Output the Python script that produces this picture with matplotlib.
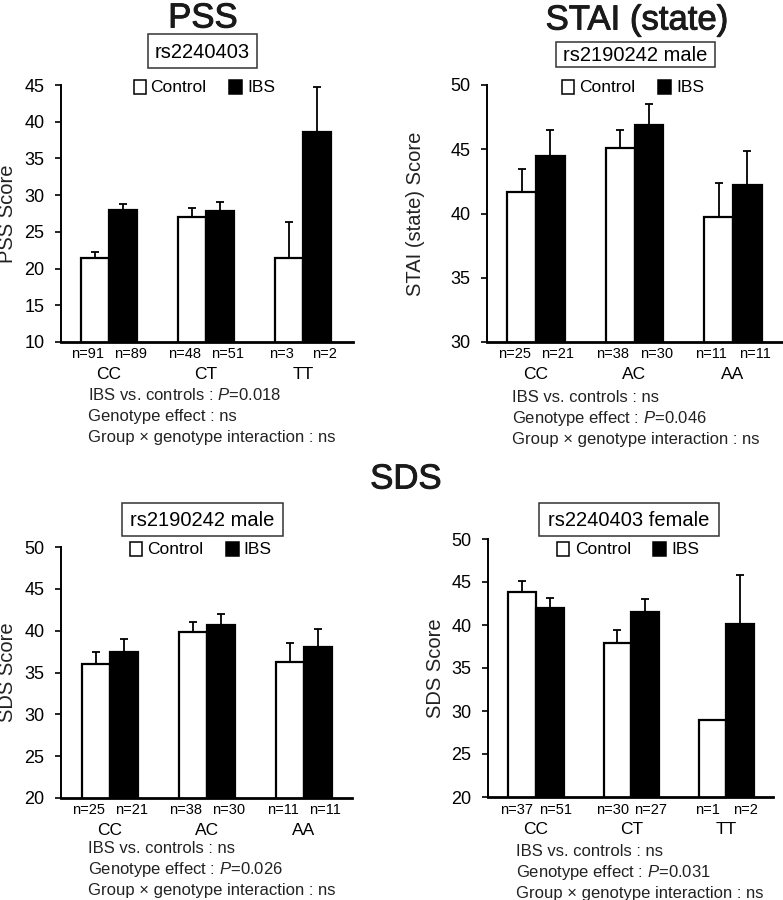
import numpy as np
import matplotlib
matplotlib.use('Agg')
import matplotlib.pyplot as plt
import matplotlib.patheffects as pe
from matplotlib.patches import Rectangle

plt.rcParams['font.family'] = ['Liberation Sans', 'DejaVu Sans']
plt.rcParams['mathtext.fontset'] = 'custom'
plt.rcParams['mathtext.rm'] = 'Liberation Sans'
plt.rcParams['mathtext.it'] = 'Liberation Sans:italic'

W, H = 783, 900

# ------------------------------------------------------------------
# Data (means and upper SE)
# ------------------------------------------------------------------
pss_geno = ['CC', 'CT', 'TT']
pss_ctrl = [21.4, 27.0, 21.4]
pss_ctrl_err = [0.9, 1.2, 5.0]
pss_ibs = [28.0, 27.8, 38.6]
pss_ibs_err = [0.8, 1.2, 6.1]
pss_n_ctrl = [91, 48, 3]
pss_n_ibs = [89, 51, 2]

stai_geno = ['CC', 'AC', 'AA']
stai_ctrl = [41.7, 45.1, 39.7]
stai_ctrl_err = [1.8, 1.4, 2.7]
stai_ibs = [44.5, 46.9, 42.2]
stai_ibs_err = [2.0, 1.6, 2.7]
stai_n_ctrl = [25, 38, 11]
stai_n_ibs = [21, 30, 11]

sdsm_geno = ['CC', 'AC', 'AA']
sdsm_ctrl = [36.0, 39.9, 36.3]
sdsm_ctrl_err = [1.4, 1.1, 2.2]
sdsm_ibs = [37.5, 40.7, 38.1]
sdsm_ibs_err = [1.5, 1.3, 2.1]
sdsm_n_ctrl = [25, 38, 11]
sdsm_n_ibs = [21, 30, 11]

sdsf_geno = ['CC', 'CT', 'TT']
sdsf_ctrl = [43.8, 37.9, 29.0]
sdsf_ctrl_err = [1.3, 1.5, 0.0]
sdsf_ibs = [42.0, 41.5, 40.1]
sdsf_ibs_err = [1.1, 1.5, 5.7]
sdsf_n_ctrl = [37, 30, 1]
sdsf_n_ibs = [51, 27, 2]

pss_stats = [r'IBS vs. controls : $P$=0.018', 'Genotype effect : ns',
             'Group × genotype interaction : ns']
stai_stats = ['IBS vs. controls : ns', r'Genotype effect : $P$=0.046',
              'Group × genotype interaction : ns']
sdsm_stats = ['IBS vs. controls : ns', r'Genotype effect : $P$=0.026',
              'Group × genotype interaction : ns']
sdsf_stats = ['IBS vs. controls : ns', r'Genotype effect : $P$=0.031',
              'Group × genotype interaction : ns']


def fx(px):
    return px / W


def fy(py):
    return 1 - py / H


fig = plt.figure(figsize=(W / 100, H / 100), dpi=100)


def panel(rect, xlim, ylim, yticks, ylabel, ylab_x, geno, ctrl, ctrl_err,
          ibs, ibs_err, n_ctrl, n_ibs, nofs=0.22):
    ax = fig.add_axes([fx(rect[0]), fy(rect[3]), fx(rect[2] - rect[0]),
                       (rect[3] - rect[1]) / H])
    x = np.arange(len(geno))
    w = 0.29
    ax.bar(x - w / 2, ctrl, w, color='white', edgecolor='black', linewidth=1.6,
           zorder=2)
    ax.bar(x + w / 2, ibs, w, color='black', edgecolor='black', linewidth=1.6,
           zorder=2)
    ax.errorbar(x - w / 2, ctrl, yerr=[np.zeros(len(x)), ctrl_err], fmt='none',
                ecolor='black', elinewidth=1.3, capsize=3, capthick=1.3, zorder=3)
    ax.errorbar(x + w / 2, ibs, yerr=[np.zeros(len(x)), ibs_err], fmt='none',
                ecolor='black', elinewidth=1.3, capsize=3, capthick=1.3, zorder=3)
    ax.set_xlim(*xlim)
    ax.set_ylim(*ylim)
    ax.set_yticks(yticks)
    ax.set_xticks([])
    for s in ['top', 'right']:
        ax.spines[s].set_visible(False)
    ax.spines['left'].set_linewidth(1.4)
    ax.spines['bottom'].set_linewidth(2.0)
    ax.tick_params(axis='y', direction='out', length=4, width=1.2, pad=8,
                   labelsize=13)
    ax.set_ylabel(ylabel, fontsize=14.5, color='#222222')
    ax.yaxis.set_label_coords(ylab_x, 0.5)
    for i in range(len(geno)):
        ax.annotate(f'n={n_ctrl[i]}', xy=(x[i] - nofs, 0),
                    xycoords=('data', 'axes fraction'), xytext=(0, -9),
                    textcoords='offset points', ha='center', va='center',
                    fontsize=10.5)
        ax.annotate(f'n={n_ibs[i]}', xy=(x[i] + nofs, 0),
                    xycoords=('data', 'axes fraction'), xytext=(0, -9),
                    textcoords='offset points', ha='center', va='center',
                    fontsize=10.5)
        ax.annotate(geno[i], xy=(x[i], 0), xycoords=('data', 'axes fraction'),
                    xytext=(0, -23.5), textcoords='offset points',
                    ha='center', va='center', fontsize=12.5)
    return ax


def legend(wx, cx, bx, ix, yc):
    fig.add_artist(Rectangle((fx(wx), fy(yc + 7)), 12 / W, 14 / H,
                             facecolor='white', edgecolor='black', lw=1.1,
                             transform=fig.transFigure))
    fig.text(fx(cx), fy(yc), 'Control', fontsize=12.5, va='center')
    fig.add_artist(Rectangle((fx(bx), fy(yc + 7)), 13 / W, 14 / H,
                             facecolor='black', edgecolor='black', lw=1.1,
                             transform=fig.transFigure))
    fig.text(fx(ix), fy(yc), 'IBS', fontsize=12.5, va='center')


def boxlabel(text, x0, x1, y0, y1):
    fig.add_artist(Rectangle((fx(x0), fy(y1)), (x1 - x0) / W, (y1 - y0) / H,
                             facecolor='white', edgecolor='#333333', lw=1.1,
                             transform=fig.transFigure))
    fig.text(fx((x0 + x1) / 2), fy((y0 + y1) / 2 + 1), text, fontsize=14.5,
             ha='center', va='center')


def stats(lines, x, y0, dy=21):
    # baseline alignment keeps mathtext lines level with plain lines
    for k, s in enumerate(lines):
        fig.text(fx(x), fy(y0 + 5 + k * dy), s, fontsize=12, va='baseline',
                 color='#222222')


def title(text, x, y):
    fig.text(fx(x), fy(y), text, fontsize=25, ha='center', va='center',
             color='#1a1a1a',
             path_effects=[pe.withStroke(linewidth=0.7, foreground='#1a1a1a')])


# --- PSS ---
panel((61, 85, 353, 342), (-0.495, 2.515), (10, 45), range(10, 46, 5),
      'PSS Score', -0.15, pss_geno, pss_ctrl, pss_ctrl_err,
      pss_ibs, pss_ibs_err, pss_n_ctrl, pss_n_ibs)
title('PSS', 203, 18)
boxlabel('rs2240403', 148, 257, 34, 68)
legend(134, 150, 229, 247, 87)
stats(pss_stats, 88, 395)

# --- STAI (state) ---
panel((487, 85, 782, 342), (-0.497, 2.497), (30, 50), range(30, 51, 5),
      'STAI (state) Score', -0.21, stai_geno, stai_ctrl, stai_ctrl_err,
      stai_ibs, stai_ibs_err, stai_n_ctrl, stai_n_ibs)
title('STAI (state)', 637, 20)
boxlabel('rs2190242 male', 556, 715, 42, 67)
legend(562, 579, 658, 676, 87)
stats(stai_stats, 512, 397)

# --- SDS ---
title('SDS', 406, 479)

panel((61, 547, 352, 798), (-0.505, 2.495), (20, 50), range(20, 51, 5),
      'SDS Score', -0.15, sdsm_geno, sdsm_ctrl, sdsm_ctrl_err,
      sdsm_ibs, sdsm_ibs_err, sdsm_n_ctrl, sdsm_n_ibs)
boxlabel('rs2190242 male', 122, 283, 503, 536)
legend(130, 147, 226, 243, 549)
stats(sdsm_stats, 88, 848)

panel((488, 539, 773, 797), (-0.505, 2.49), (20, 50), range(20, 51, 5),
      'SDS Score', -0.151, sdsf_geno, sdsf_ctrl, sdsf_ctrl_err,
      sdsf_ibs, sdsf_ibs_err, sdsf_n_ctrl, sdsf_n_ibs, nofs=0.2)
boxlabel('rs2240403 female', 539, 719, 503, 536)
legend(557, 575, 653, 671, 549)
stats(sdsf_stats, 516, 851)

fig.savefig('out.png', dpi=100)
